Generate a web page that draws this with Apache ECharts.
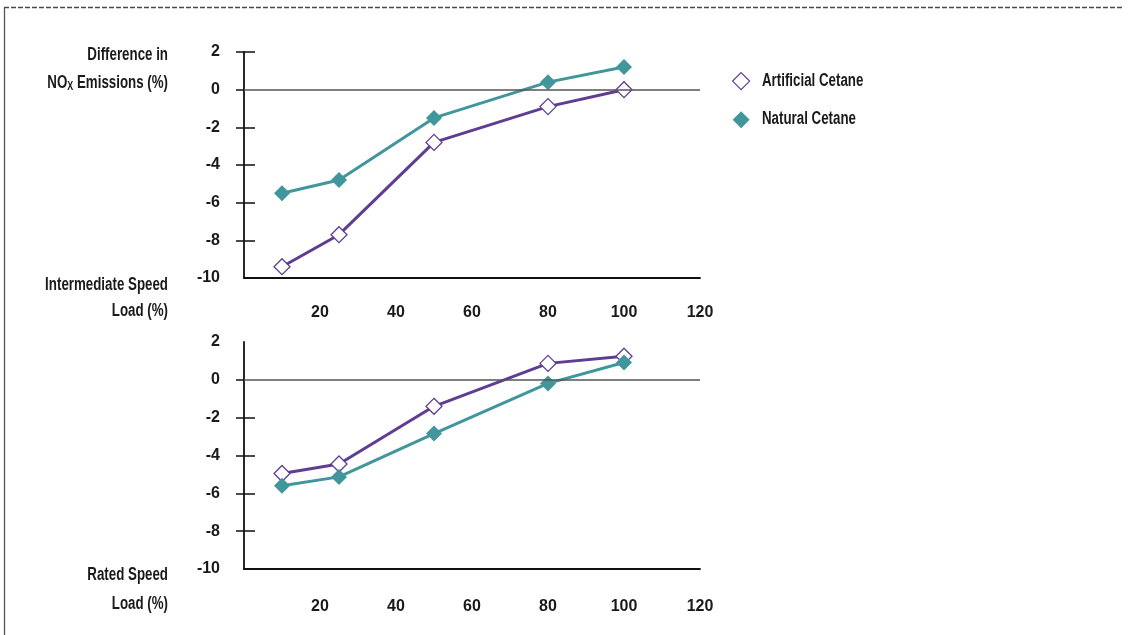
<!DOCTYPE html>
<html>
<head>
<meta charset="utf-8">
<script src="https://cdn.jsdelivr.net/npm/echarts@6/dist/echarts.min.js"></script>
<style>
html,body{margin:0;padding:0;background:#fff;}
#c{width:1132px;height:635px;}
</style>
</head>
<body>
<div id="c"></div>
<script>
// ---- data ----
var loads = [10, 25, 50, 80, 100];
var xTicks = [20, 40, 60, 80, 100, 120];
var yTicks = [2, 0, -2, -4, -6, -8, -10];
var seriesNames = ['Artificial Cetane', 'Natural Cetane'];
var interArtificial = [-9.4, -7.7, -2.8, -0.9, 0.0];
var interNatural = [-5.5, -4.8, -1.5, 0.4, 1.2];
var ratedArtificial = [-4.95, -4.45, -1.4, 0.87, 1.25];
var ratedNatural = [-5.6, -5.13, -2.84, -0.19, 0.92];
var topLabels = ['Difference in', 'NO{sub|X} Emissions (%)', 'Intermediate Speed', 'Load (%)'];
var bottomLabels = ['Rated Speed', 'Load (%)'];

var FONT = '"Liberation Sans", Arial, sans-serif';
var SX = 0.74;
var PURPLE = '#5f3d92';
var TEAL = '#41969c';
var INK = '#1a1a1a';

function pairs(xs, ys) { return xs.map(function (x, i) { return [x, ys[i]]; }); }

var chart = echarts.init(document.getElementById('c'), null, { renderer: 'canvas' });

function xAxisFor(gi, margin) {
  return {
    type: 'value', gridIndex: gi, min: 0, max: 120, interval: 20,
    axisLine: { show: true, onZero: false, lineStyle: { color: '#111', width: 1.8 } },
    axisTick: { show: false },
    splitLine: { show: false },
    axisLabel: {
      show: true, margin: margin, color: INK, fontFamily: FONT, fontWeight: 'bold', fontSize: 16,
      customValues: xTicks,
      formatter: function (v) { return xTicks.indexOf(v) >= 0 ? String(v) : ''; }
    }
  };
}
function yMain(gi, tickVals) {
  return {
    type: 'value', gridIndex: gi, min: -10, max: 2, interval: 2,
    axisLine: { show: true, onZero: false, lineStyle: { color: '#111', width: 1.8 } },
    axisTick: { show: true, inside: true, length: 11, customValues: tickVals, lineStyle: { color: '#111', width: 1.5 } },
    splitLine: { show: false },
    axisLabel: { show: true, margin: 24, color: INK, fontFamily: FONT, fontWeight: 'bold', fontSize: 16, customValues: yTicks,
      formatter: function (v) { return String(v); } }
  };
}
function yTickOnly(gi, tickVals) {
  return {
    type: 'value', gridIndex: gi, min: -10, max: 2, interval: 2, position: 'left',
    axisLine: { show: false },
    axisTick: { show: true, inside: false, length: 8, customValues: tickVals, lineStyle: { color: '#111', width: 1.5 } },
    splitLine: { show: false },
    axisLabel: { show: false }
  };
}

function lineSeries(name, data, xi, yi, hollow, withZero) {
  var s = {
    name: name, type: 'line', xAxisIndex: xi, yAxisIndex: yi,
    data: data, symbol: 'diamond', symbolSize: 16, showSymbol: true,
    lineStyle: { color: hollow ? PURPLE : TEAL, width: 3 },
    itemStyle: hollow ? { color: '#fff', borderColor: PURPLE, borderWidth: 1.3 } : { color: TEAL, borderWidth: 0 },
    emphasis: { disabled: true },
    animation: false, z: hollow ? 3 : 4
  };
  if (withZero) {
    s.markLine = {
      silent: true, symbol: ['none', 'none'], label: { show: false },
      lineStyle: { color: '#555', width: 1.5, type: 'solid' },
      data: [{ yAxis: 0 }], animation: false
    };
  }
  return s;
}

function labelText(txt, x, y, align) {
  return {
    type: 'text', x: x, y: y, scaleX: SX, silent: true,
    style: {
      text: txt, x: 0, y: 0, align: align || 'right', verticalAlign: 'middle',
      fill: INK, fontFamily: FONT, fontSize: 18, fontWeight: 'bold',
      rich: {
        sub: { fontSize: 12, fontFamily: FONT, fontWeight: 'bold', fill: INK, padding: [8, 0, 0, 0] }
      }
    }
  };
}

var option = {
  backgroundColor: '#fff',
  animation: false,
  grid: [
    { left: 244, top: 52, width: 456, height: 226 },
    { left: 244, top: 342, width: 456, height: 227 }
  ],
  xAxis: [xAxisFor(0, 27), xAxisFor(1, 30)],
  yAxis: [
    yMain(0, [2, -2, -4, -6, -8]), yTickOnly(0, [2, 0, -2, -4, -6, -8]),
    yMain(1, [-2, -4, -6, -8]), yTickOnly(1, [0, -2, -4, -6, -8])
  ],
  legend: {
    orient: 'vertical', left: 732, top: 72, padding: 0, itemGap: 21, itemWidth: 17, itemHeight: 17,
    selectedMode: false,
    formatter: function () { return ''; },
    textStyle: { fontFamily: FONT, fontSize: 16, color: INK },
    data: [
      { name: seriesNames[0], icon: 'diamond', itemStyle: { color: '#fff', borderColor: PURPLE, borderWidth: 1.2 } },
      { name: seriesNames[1], icon: 'diamond', itemStyle: { color: TEAL, borderWidth: 0 } }
    ]
  },
  series: [
    lineSeries(seriesNames[0], pairs(loads, interArtificial), 0, 0, true, true),
    lineSeries(seriesNames[1], pairs(loads, interNatural), 0, 0, false, false),
    lineSeries(seriesNames[0], pairs(loads, ratedArtificial), 1, 2, true, true),
    lineSeries(seriesNames[1], pairs(loads, ratedNatural), 1, 2, false, false)
  ],
  graphic: [
    { type: 'line', shape: { x1: 4, y1: 7.5, x2: 1123, y2: 7.5 }, style: { stroke: '#4a4a4a', lineWidth: 1.5, lineDash: [5, 2] }, silent: true },
    { type: 'line', shape: { x1: 4.5, y1: 7, x2: 4.5, y2: 635 }, style: { stroke: '#555', lineWidth: 1.3 }, silent: true },
    labelText(topLabels[0], 168, 55),
    labelText(topLabels[1], 168, 83),
    labelText(topLabels[2], 168, 285),
    labelText(topLabels[3], 168, 311),
    labelText(bottomLabels[0], 168, 575),
    labelText(bottomLabels[1], 168, 604),
    labelText(seriesNames[0], 762, 81, 'left'),
    labelText(seriesNames[1], 762, 119, 'left')
  ]
};
chart.setOption(option);
</script>
</body>
</html>
